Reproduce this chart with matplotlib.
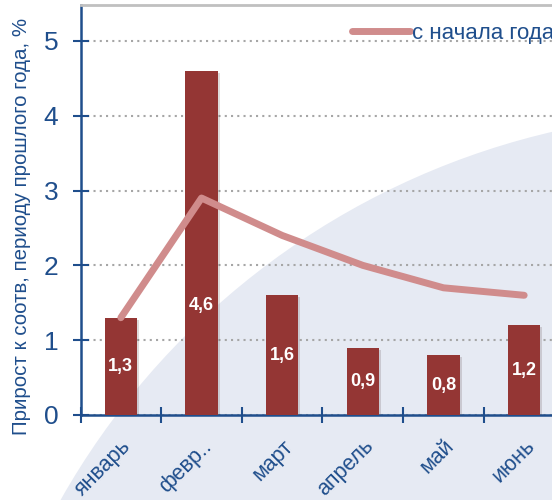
import matplotlib
matplotlib.use("Agg")
import matplotlib.pyplot as plt
from matplotlib import font_manager
from matplotlib import patheffects as pe
from matplotlib.patches import Ellipse

months = ["январь", "февр..", "март", "апрель", "май", "июнь"]
monthly = [1.3, 4.6, 1.6, 0.9, 0.8, 1.2]
ytd = [1.3, 2.9, 2.4, 2.0, 1.7, 1.6]
labels = ["1,3", "4,6", "1,6", "0,9", "0,8", "1,2"]

names = {f.name for f in font_manager.fontManager.ttflist}
narrow = "Liberation Sans Narrow" if "Liberation Sans Narrow" in names else "Liberation Sans"
plt.rcParams["font.family"] = [narrow, "DejaVu Sans"]

blue = "#1F4E8C"
bar_col = "#943634"
line_col = "#D08C8C"

fig = plt.figure(figsize=(5.52, 5.0), dpi=100)

# big pale curved shape in the background
bg = Ellipse((725 / 552, -375 / 500), 2 * 763 / 552, 2 * 763 / 500,
             transform=fig.transFigure, facecolor="#E6EAF3", edgecolor="none", zorder=-10)
fig.patches.append(bg)

ax = fig.add_axes([80.5 / 552, 85 / 500, 484 / 552, 410 / 500])
ax.set_facecolor("none")

x = list(range(len(months)))
bars = ax.bar(x, monthly, width=0.4, color=bar_col, zorder=3)
for b in bars:
    b.set_path_effects([pe.SimplePatchShadow(offset=(1.5, -1.5), alpha=0.15), pe.Normal()])
ax.plot(x, ytd, color=line_col, lw=5, solid_capstyle="round", zorder=4, label="с начала года")

for i, (v, t) in enumerate(zip(monthly, labels)):
    y = v / 2 if i != 1 else 1.47
    ax.text(i, y, t, color="white", fontsize=13, fontweight="bold",
            ha="center", va="center", zorder=5)

ax.set_xlim(-0.5, 5.5)
ax.set_ylim(0, 5.48)
ax.set_yticks([0, 1, 2, 3, 4, 5])
ax.yaxis.grid(True, linestyle=(0, (1, 2)), color="#A6A6A6", lw=1.5, zorder=1)
ax.set_axisbelow(True)

ax.set_xticks([i + 0.5 for i in range(-1, 6)], minor=False)
ax.set_xticklabels([])
ax.set_xticks(x, minor=True)
ax.set_xticklabels(months, minor=True, rotation=45, ha="right", rotation_mode="anchor",
                   fontsize=15.5, color=blue)
ax.tick_params(axis="x", which="minor", length=0, pad=15)
ax.tick_params(axis="x", which="major", direction="inout", length=12, width=1.5, color=blue)
ax.tick_params(axis="y", direction="inout", length=12, width=1.5, color=blue,
               labelsize=19, labelcolor=blue, pad=10)

for s in ["left", "bottom"]:
    ax.spines[s].set_color(blue)
    ax.spines[s].set_linewidth(1.8)
ax.spines["top"].set_color("#C0C0C0")
ax.spines["top"].set_linewidth(2)
ax.spines["right"].set_visible(False)

fig.text(22 / 552, 1 - 226 / 500, "Прирост к соотв, периоду прошлого года, %",
         rotation=90, ha="center", va="center", fontsize=14.8, color=blue)

ax.legend(loc="center left", bbox_to_anchor=(352 / 552, 1 - 33 / 500),
          bbox_transform=fig.transFigure, frameon=False, fontsize=16,
          handlelength=2.6, handletextpad=0.1, labelcolor=blue, borderaxespad=0, borderpad=0)

fig.savefig("out.png", dpi=100)
